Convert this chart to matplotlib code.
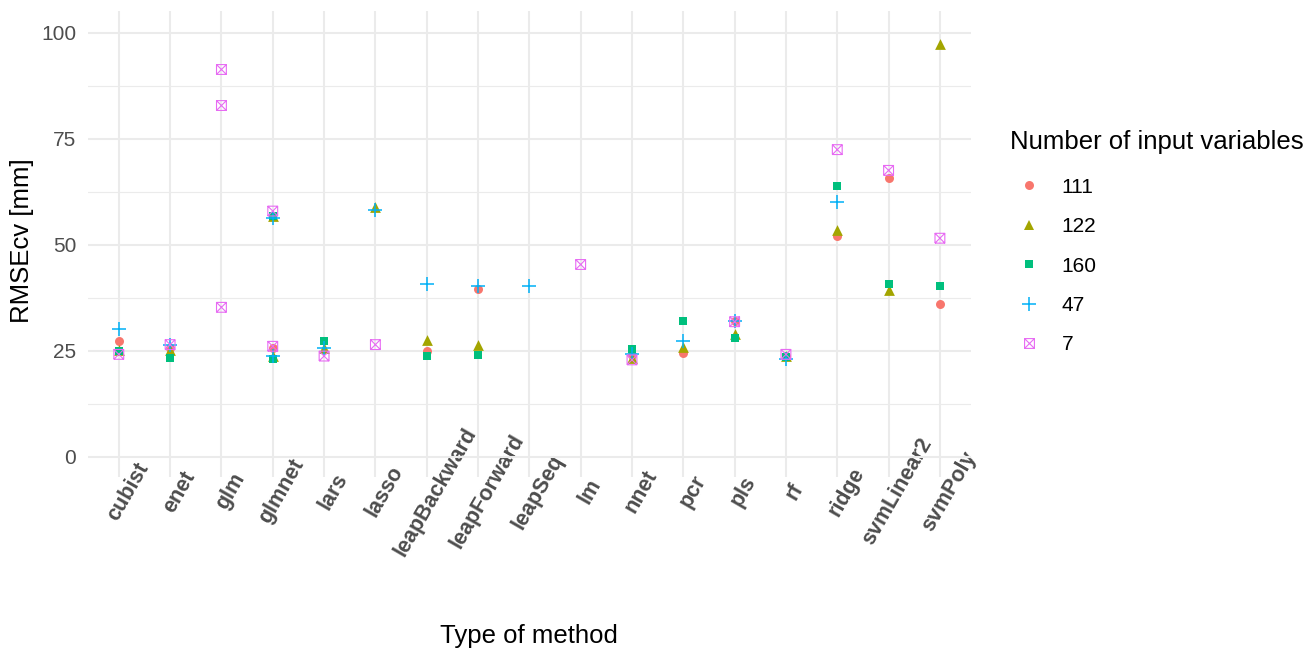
import matplotlib
matplotlib.use("Agg")
import matplotlib.pyplot as plt
from matplotlib.path import Path
from matplotlib.lines import Line2D
import numpy as np

plt.rcParams['font.family'] = ['Liberation Sans', 'DejaVu Sans']

methods = ["cubist", "enet", "glm", "glmnet", "lars", "lasso", "leapBackward",
           "leapForward", "leapSeq", "lm", "nnet", "pcr", "pls", "rf", "ridge",
           "svmLinear2", "svmPoly"]

s111_methods = ["cubist", "enet", "glmnet", "leapBackward", "leapForward", "nnet",
                "pcr", "pls", "rf", "ridge", "svmLinear2", "svmPoly"]
s111_values = [27.2, 25.5, 25.7, 24.8, 39.5, 24.0, 24.5, 31.9, 23.7, 52.0, 65.6, 36.0]

s122_methods = ["cubist", "enet", "glmnet", "glmnet", "lars", "lasso", "leapBackward",
                "leapForward", "nnet", "pcr", "pls", "rf", "ridge", "svmLinear2", "svmPoly"]
s122_values = [25.2, 25.2, 56.7, 23.6, 25.7, 58.9, 27.6, 26.4, 23.3, 25.9, 28.8, 23.8,
               53.5, 39.2, 97.2]

s160_methods = ["cubist", "enet", "glmnet", "glmnet", "lars", "leapBackward", "leapForward",
                "nnet", "pcr", "pls", "rf", "ridge", "svmLinear2", "svmPoly"]
s160_values = [24.8, 23.3, 56.8, 23.1, 27.2, 23.7, 23.9, 25.3, 31.9, 28.0, 23.5, 63.9,
               40.6, 40.2]

s47_methods = ["cubist", "enet", "glmnet", "glmnet", "lars", "lasso", "leapBackward",
               "leapForward", "leapSeq", "nnet", "pcr", "pls", "rf", "ridge"]
s47_values = [30.0, 26.2, 56.3, 23.7, 25.5, 58.1, 40.6, 40.3, 40.3, 24.1, 27.2, 31.9,
              22.9, 60.0]

s7_methods = ["cubist", "enet", "glm", "glm", "glm", "glmnet", "glmnet", "lars", "lasso",
              "lm", "nnet", "pls", "rf", "ridge", "svmLinear2", "svmPoly"]
s7_values = [24.1, 26.4, 91.3, 82.8, 35.2, 57.9, 26.0, 23.7, 26.4, 45.3, 22.8, 31.8,
             24.1, 72.4, 67.5, 51.5]

series_labels = ["111", "122", "160", "47", "7"]
series_colors = ["#F8766D", "#A3A500", "#00BF7D", "#00B0F6", "#E76BF3"]

# square with a cross (ggplot shape 7)
sq_cross = Path(
    [(-1, -1), (1, -1), (1, 1), (-1, 1), (-1, -1), (-1, -1), (1, 1), (-1, 1), (1, -1)],
    [Path.MOVETO, Path.LINETO, Path.LINETO, Path.LINETO, Path.LINETO,
     Path.MOVETO, Path.LINETO, Path.MOVETO, Path.LINETO])

styles = [
    dict(marker="o", s=42, linewidths=0),
    dict(marker="^", s=60, linewidths=0),
    dict(marker="s", s=37, linewidths=0),
    dict(marker="+", s=92, linewidths=1.1),
    dict(marker=sq_cross, s=50, linewidths=0.8, facecolors="none"),
]

W, H = 1312, 650
fig = plt.figure(figsize=(W / 100, H / 100), dpi=100)
left, right, top, bottom = 88, 970.7, 11, 477.3
ax = fig.add_axes([left / W, 1 - bottom / H, (right - left) / W, (bottom - top) / H])

idx = {m: i for i, m in enumerate(methods)}
all_series = [(s111_methods, s111_values), (s122_methods, s122_values),
              (s160_methods, s160_values), (s47_methods, s47_values),
              (s7_methods, s7_values)]
for (ms, vs), lab, col, st in zip(all_series, series_labels, series_colors, styles):
    xs = [idx[m] for m in ms]
    kw = dict(st)
    if kw.get("facecolors") == "none":
        ax.scatter(xs, vs, edgecolors=col, zorder=3, **kw)
    else:
        ax.scatter(xs, vs, c=col, zorder=3, **kw)

ax.set_xlim(-0.6, len(methods) - 1 + 0.6)
ax.set_ylim(-4.9, 105.1)
ax.set_yticks([0, 25, 50, 75, 100])
ax.set_yticks([12.5, 37.5, 62.5, 87.5], minor=True)
ax.set_xticks(range(len(methods)))
ax.set_xticklabels(methods, rotation=60, ha="center", va="top",
                   rotation_mode="anchor", fontweight="bold", fontsize=15.5,
                   color="#4D4D4D")
ax.tick_params(axis="x", length=0, pad=6.5)
ax.tick_params(axis="y", which="both", length=0, pad=8.5, labelsize=15, labelcolor="#4D4D4D")

ax.grid(True, which="major", color="#EBEBEB", linewidth=1.5)
ax.grid(True, which="minor", axis="y", color="#EBEBEB", linewidth=0.8)
ax.set_axisbelow(True)
for sp in ax.spines.values():
    sp.set_visible(False)

fig.text(529 / W, 1 - 636 / H, "Type of method", ha="center", va="center", fontsize=18.5)
fig.text(22 / W, 1 - 241 / H, "RMSEcv [mm]", ha="center", va="center", rotation=90, fontsize=18.5)

handles = []
for lab, col, st in zip(series_labels, series_colors, styles):
    if st.get("facecolors") == "none":
        h = Line2D([], [], linestyle="none", marker=st["marker"], markersize=np.sqrt(st["s"]),
                   markerfacecolor="none", markeredgecolor=col, markeredgewidth=st["linewidths"])
    elif st["marker"] == "+":
        h = Line2D([], [], linestyle="none", marker="+", markersize=np.sqrt(st["s"]),
                   color=col, markeredgewidth=st["linewidths"])
    else:
        h = Line2D([], [], linestyle="none", marker=st["marker"], markersize=np.sqrt(st["s"]),
                   color=col, markeredgewidth=0)
    handles.append(h)

leg = fig.legend(handles, series_labels, title="Number of input variables",
                 loc="upper left", bbox_to_anchor=(1010 / W, 1 - 130 / H),
                 frameon=False, fontsize=15, title_fontsize=18.5,
                 labelspacing=0.98, handletextpad=0.68, handlelength=1.8,
                 borderaxespad=0, borderpad=0)
leg._legend_box.align = "left"
leg._legend_box.sep = 0.98 * 15 + 2.4

fig.savefig("out.png", dpi=100)
